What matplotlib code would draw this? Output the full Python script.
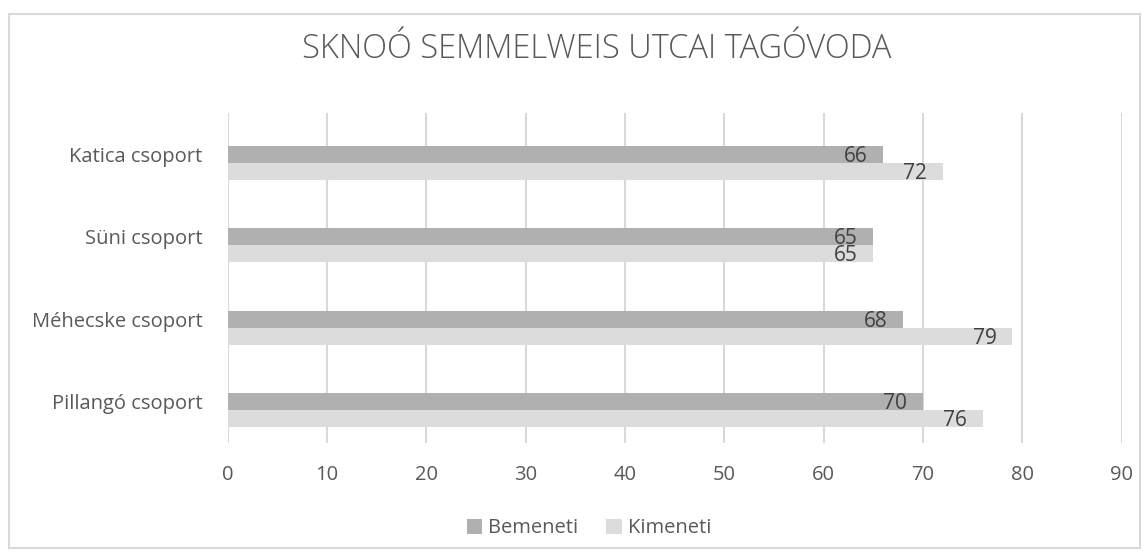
import matplotlib.pyplot as plt
from matplotlib.patches import Rectangle
import numpy as np

plt.rcParams['font.family'] = ['Open Sans', 'DejaVu Sans']

categories = ["Katica csoport", "Süni csoport", "Méhecske csoport", "Pillangó csoport"]
bemeneti = [66, 65, 68, 70]
kimeneti = [72, 65, 79, 76]
xticks = [0, 10, 20, 30, 40, 50, 60, 70, 80, 90]

c_be = "#b0b0b0"
c_ki = "#dcdcdc"
txt = "#595959"

fig = plt.figure(figsize=(11.48, 5.56), dpi=100)
ax = fig.add_axes([0.1983, 0.2032, 0.7788, 0.5935])

y = np.arange(len(categories)) + 0.5
h = 0.206
ax.barh(y, bemeneti, height=h, color=c_be, label="Bemeneti", zorder=2)
ax.barh(y + h, kimeneti, height=h, color=c_ki, label="Kimeneti", zorder=2)

# value labels, inside end of bars
for yi, v in zip(y, bemeneti):
    ax.annotate(str(v), (v, yi), xytext=(-16, -2), textcoords="offset pixels",
                ha="right", va="center", fontsize=15, color="#404040", zorder=3)
for yi, v in zip(y + h, kimeneti):
    ax.annotate(str(v), (v, yi), xytext=(-16, -2), textcoords="offset pixels",
                ha="right", va="center", fontsize=15, color="#404040", zorder=3)

ax.set_xlim(0, 90)
ax.set_ylim(4, 0)
ax.set_xticks(xticks)
ax.set_yticks(y)
ax.set_yticklabels(categories)
ax.tick_params(length=0, labelsize=14.5, colors=txt)
ax.tick_params(axis="y", pad=18)
ax.tick_params(axis="x", pad=16)
ax.grid(axis="x", color="#d9d9d9", linewidth=1.5, zorder=0)
for s in ax.spines.values():
    s.set_visible(False)

fig.text(0.52, 0.912, "SKNOÓ SEMMELWEIS UTCAI TAGÓVODA", ha="center", va="center",
         fontsize=23.5, color=txt, fontweight="light")

fig.legend(loc="center", bbox_to_anchor=(0.513, 0.05), ncol=2, frameon=False,
           fontsize=14.5, labelcolor=txt, handlelength=0.75, handleheight=0.75,
           handletextpad=0.3, columnspacing=1.4)

fig.patches.append(Rectangle((9 / 1148, 1 - 548 / 556), 1131 / 1148, 534 / 556,
                             transform=fig.transFigure, fill=False,
                             edgecolor="#d9d9d9", linewidth=1.5))

fig.savefig("out.png", dpi=100)
